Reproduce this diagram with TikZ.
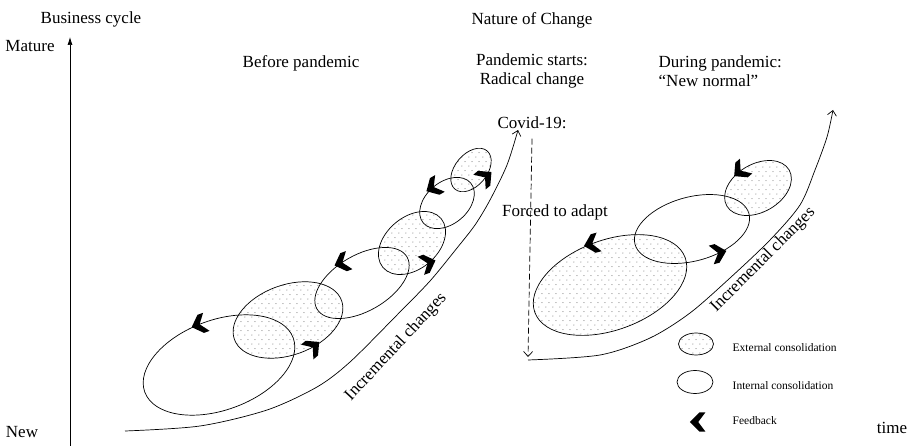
\documentclass[tikz,border=0pt]{standalone}
\usepackage{fontspec}
\setmainfont{Liberation Serif}
\usetikzlibrary{arrows.meta, shapes.geometric, patterns.meta}
\tikzdeclarepattern{
  name=sdots, type=uncolored,
  bottom left={(-1pt,-1pt)}, top right={(6pt,8.4pt)},
  tile size={(7pt,9.4pt)},
  code={\fill (0pt,0pt) circle (0.55pt); \fill (3.5pt,4.7pt) circle (0.55pt);}
}
\tikzset{
  every picture/.style={x=1pt, y=-1pt, line width=0.7pt},
  big/.style={font=\fontsize{17}{19}\selectfont},
  small/.style={font=\fontsize{11.5}{13}\selectfont},
  intcons/.style={draw, ellipse, inner sep=0pt, outer sep=0pt},
  extcons/.style={intcons, pattern=sdots, pattern color=black!65},
  fback/.pic={\fill[scale=1.2] (-6,0) -- (2,-8) -- (7,-8) -- (1,0) -- (7,8) -- (2,8) -- cycle;},
  thinarrow/.style={-{Straight Barb[length=5pt, width=9pt]}},
}

\begin{document}
\begin{tikzpicture}
  \useasboundingbox (0,0) rectangle (910,446);
  % axis and titles
  \coordinate (ybot) at (70,446);
  \coordinate (ytop) at (70,37);
  \draw[-{Latex[length=8pt, width=5pt]}] (ybot) -- (ytop);
  \node[big] (bcycle) at (91,19) {Business cycle};
  \node[big] (mature) at (30,46) {Mature};
  \node[big] (new) at (22,432) {New};
  \node[big] (time) at (892,428) {time};
  \node[big] (nature) at (532,20) {Nature of Change};
  \node[big] (before) at (301,63) {Before pandemic};
  \node[big, align=center] (starts) at (532,71) {Pandemic starts:\\Radical change};
  \node[big, align=left, anchor=west] (during) at (655,71) {During pandemic:\\“New normal”};
  \node[big] (covid) at (532,123) {Covid-19:};
  \node[big] (forced) at (555,212) {Forced to adapt};

  % growth curves
  \draw[thinarrow] plot[smooth] coordinates {(125,431) (200,426) (267,410) (317,387) (350,362) (397,315) (430,281) (457,248) (475,225) (490,200) (507,165) (518,130)};
  \draw[thinarrow] plot[smooth] coordinates {(528,360) (600,355) (650,338) (690,313) (730,278) (770,240) (800,205) (815,170) (827,137) (833,110)};
  \draw[thinarrow, dash pattern=on 6pt off 3pt] (covid.south) ++(0,6) coordinate (dtop) -- (528,357) coordinate (dbot);
  \node[big, rotate=47] (incl) at (396,347) {Incremental changes};
  \node[big, rotate=45] (incr) at (763,260) {Incremental changes};

  % before pandemic
  \node[intcons, minimum width=158pt, minimum height=90pt, rotate=20] (i1) at (219,365) {};
  \node[extcons, minimum width=114pt, minimum height=70pt, rotate=20] (e1) at (288,320) {};
  \node[intcons, minimum width=104pt, minimum height=56pt, rotate=30] (i2) at (362,283) {};
  \node[extcons, minimum width=76pt, minimum height=52pt, rotate=40] (e2) at (412,243) {};
  \node[intcons, minimum width=62pt, minimum height=42pt, rotate=40] (i3) at (447,203) {};
  \node[extcons, minimum width=50pt, minimum height=32pt, rotate=50] (e3) at (471,170) {};
  \pic[rotate=20] at (i1.97) {fback};
  \pic[rotate=220] at (e1.294) {fback};
  \pic[rotate=20] at (i2.106) {fback};
  \pic[rotate=200] at (e2.270) {fback};
  \pic[rotate=30] at (i3.93) {fback};
  \pic[rotate=220] at (e3.286) {fback};

  % during pandemic
  \node[extcons, minimum width=160pt, minimum height=90pt, rotate=20] (e4) at (610,285) {};
  \node[intcons, minimum width=118pt, minimum height=64pt, rotate=15] (i4) at (692,229) {};
  \node[extcons, minimum width=72pt, minimum height=48pt, rotate=30] (e5) at (758,188) {};
  \pic[rotate=15] at (e4.95) {fback};
  \pic[rotate=195] at (i4.304) {fback};
  \pic[rotate=40] at (e5.108) {fback};

  % legend
  \node[extcons, minimum width=35pt, minimum height=22pt] (lext) at (696,344) {};
  \node[intcons, minimum width=36pt, minimum height=23pt] (lint) at (695,382) {};
  \pic (lfb) at (697,422) {fback};
  \node[small, anchor=west] (lexttxt) at (729,348) {External consolidation};
  \node[small, anchor=west] (linttxt) at (729,386) {Internal consolidation};
  \node[small, anchor=west] (lfbtxt) at (729,421) {Feedback};
\end{tikzpicture}
\end{document}
